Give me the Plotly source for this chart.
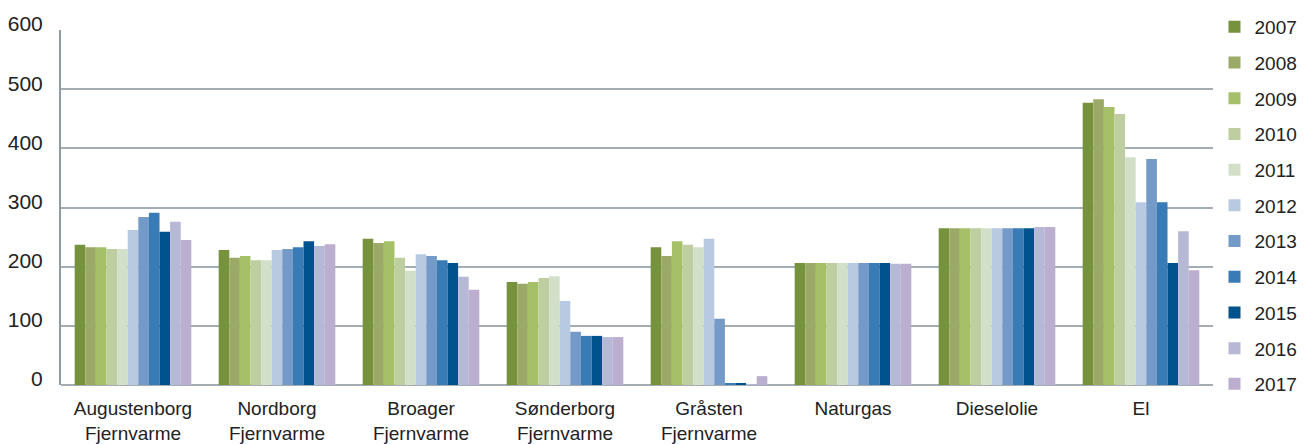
import plotly.graph_objects as go

categories = ["Augustenborg<br>Fjernvarme", "Nordborg<br>Fjernvarme", "Broager<br>Fjernvarme",
              "Sønderborg<br>Fjernvarme", "Gråsten<br>Fjernvarme", "Naturgas", "Dieselolie", "El"]
years = ["2007", "2008", "2009", "2010", "2011", "2012", "2013", "2014", "2015", "2016", "2017"]

v2007 = [237, 228, 247, 174, 233, 206, 265, 477]
v2008 = [233, 215, 240, 171, 218, 206, 265, 483]
v2009 = [233, 218, 243, 174, 243, 206, 265, 470]
v2010 = [230, 211, 215, 181, 237, 206, 265, 458]
v2011 = [230, 211, 193, 184, 233, 206, 265, 385]
v2012 = [262, 228, 221, 142, 247, 206, 265, 309]
v2013 = [284, 230, 218, 90, 112, 206, 265, 382]
v2014 = [291, 233, 211, 83, 3, 206, 265, 309]
v2015 = [259, 243, 206, 83, 3, 206, 265, 206]
v2016 = [276, 235, 183, 81, 1.5, 205, 267, 260]
v2017 = [245, 238, 161, 81, 15, 205, 267, 194]

series = [v2007, v2008, v2009, v2010, v2011, v2012, v2013, v2014, v2015, v2016, v2017]
colors = ["#77923C", "#9BAA66", "#A6C06A", "#BECEA0", "#D2E0C9", "#B7CAE1",
          "#749BC7", "#387BB7", "#00528C", "#B6B8D6", "#BCAECE"]

fig = go.Figure()
for y, vals, c in zip(years, series, colors):
    fig.add_trace(go.Bar(name=y, x=categories, y=vals, marker_color=c,
                         marker_line_width=0, legendgroup=y))

# page body has an 8px margin, so the figure is drawn 8px smaller and offset
OFF = 8
W, H = 1305 - OFF, 444 - OFF
L, R = 61 - OFF, 1305 - 1213
top_px, bot_px = 30 - OFF, 385 - OFF

fig.update_layout(
    width=W, height=H,
    margin=dict(l=L, r=R, t=0, b=0, autoexpand=False),
    plot_bgcolor="white", paper_bgcolor="white",
    barmode="group", bargap=0.19, bargroupgap=0,
    font=dict(family="Liberation Sans, Arial, sans-serif", color="#222222", size=19),
    legend=dict(x=1.0013, y=1, xanchor="left", yanchor="top",
                font=dict(size=19), tracegroupgap=8, itemwidth=30),
)
fig.update_xaxes(showline=False, ticks="", tickfont=dict(size=19), automargin=False,
                 ticklabelstandoff=10)
fig.update_yaxes(range=[0, 600], dtick=100, showgrid=True, gridcolor="#A3ADB3", gridwidth=2,
                 domain=[1 - bot_px / H, 1 - top_px / H],
                 zeroline=True, zerolinecolor="#A3ADB3", zerolinewidth=2,
                 showline=True, linecolor="#8E9BA3", linewidth=2, automargin=False,
                 tickfont=dict(size=21), ticklabelstandoff=12, ticklabelshift=-6)
fig.write_html("out.html")
